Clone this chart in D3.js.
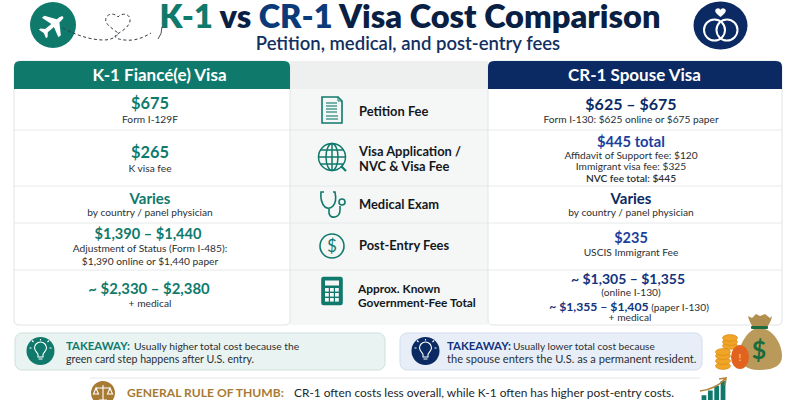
<!DOCTYPE html>
<html><head><meta charset="utf-8">
<script src="https://cdn.jsdelivr.net/npm/d3@7"></script>
<style>html,body{margin:0;padding:0;background:#fff}svg{display:block}text{font-family:Lato,sans-serif}</style>
</head><body><svg id="c" width="800" height="400"></svg>
<script>
const titleParts = ["K-1", " vs ", "CR-1", " Visa Cost Comparison"];
const subtitle = "Petition, medical, and post-entry fees";
const headers = ["K-1 Fiancé(e) Visa", "CR-1 Spouse Visa"];
const rowLabels = [["Petition Fee"], ["Visa Application /", "NVC & Visa Fee"], ["Medical Exam"], ["Post-Entry Fees"], ["Approx. Known", "Government-Fee Total"]];
const k1Values = ["$675", "$265", "Varies", "$1,390 – $1,440", "~ $2,330 – $2,380"];
const k1Notes = [["Form I-129F"], ["K visa fee"], ["by country / panel physician"], ["Adjustment of Status (Form I-485):", "$1,390 online or $1,440 paper"], ["+ medical"]];
const cr1Values = ["$625 – $675", "$445 total", "Varies", "$235", "~ $1,305 – $1,355"];
const cr1Notes = [["Form I-130: $625 online or $675 paper"], ["Affidavit of Support fee: $120", "Immigrant visa fee: $325", "NVC fee total: $445"], ["by country / panel physician"], ["USCIS Immigrant Fee"], ["(online I-130)"]];
const cr1Paper = ["~ $1,355 – $1,405", " (paper I-130)"];
const cr1Tail = "+ medical";
const takeawayHead = "TAKEAWAY:";
const takeawayK1 = ["Usually higher total cost because the", "green card step happens after U.S. entry."];
const takeawayCR1 = ["Usually lower total cost because", "the spouse enters the U.S. as a permanent resident."];
const ruleHead = "GENERAL RULE OF THUMB:";
const ruleBody = "CR-1 often costs less overall, while K-1 often has higher post-entry costs.";
const trendBars = [1, 2, 3, 4];

const TEAL="#0f7a6c", NAVY="#0b2a63", BLUE="#1a3f9e", INK="#2b2f33", GOLD="#a87b35";
const svg=d3.select("#c");
const X={t:14,a:290,b:488,r:782}, TOP=61, HEAD=89, BOT=325;
const rowEdges=[89,130,186,223,270,325];
const kx=150, cx=631, lx=359;
const kBase=[[109,123],[158,172],[204,216],[239,252,265],[294,307]];
const cBase=[[110,123],[147,159,170,182],[204,216],[243,256],[284,296]];
const lBase=[[116],[156,171],[209],[250],[293,307]];
const iconY=[110,157,205,246,291];
const cColor=[NAVY,BLUE,NAVY,BLUE,"#12337e"];
const kSize=[16.4,16.4,15,14.6,14.9], cSize=[16,14.7,15,14.5,14];
const kOff=[0,0,0,-2,-1], cOff=[0,0,0,0,-3];
const lSize=[12.9,12.9,12.9,12.9,11.9];

// title
const title=svg.append("text").attr("x",410).attr("y",28).attr("text-anchor","middle")
  .style("font-size","32.6px").style("font-weight",800);
title.selectAll("tspan").data(titleParts).join("tspan").text(d=>d)
  .style("white-space","pre")
  .attr("fill",(d,i)=>i==0?TEAL:i==2?"#0b3a78":"#0a1f44");
svg.append("text").attr("x",408).attr("y",50).attr("text-anchor","middle").attr("fill","#12305f")
  .style("font-size","18.5px").style("font-weight",600).text(subtitle);

// table frame
const rr=(x,y,w,h,tl,tr,br,bl)=>`M${x+tl},${y}H${x+w-tr}Q${x+w},${y} ${x+w},${y+tr}V${y+h-br}Q${x+w},${y+h} ${x+w-br},${y+h}H${x+bl}Q${x},${y+h} ${x},${y+h-bl}V${y+tl}Q${x},${y} ${x+tl},${y}Z`;
svg.append("path").attr("d",rr(X.a,TOP,X.b-X.a,BOT-TOP,0,0,0,0)).attr("fill","#f5f6f6");
svg.append("path").attr("d",rr(X.a,TOP,X.b-X.a,HEAD-TOP,0,0,0,0)).attr("fill","#eef0f0");
svg.append("path").attr("d",rr(X.t,TOP,X.a-X.t,BOT-TOP,6,6,5,5)).attr("fill","#fff").attr("stroke","#dfe3e5");
svg.append("path").attr("d",rr(X.b,TOP,X.r-X.b,BOT-TOP,6,6,5,5)).attr("fill","#fff").attr("stroke","#dfe3e5");
svg.append("path").attr("d",rr(X.t,TOP,X.a-X.t,HEAD-TOP,6,6,0,0)).attr("fill",TEAL);
svg.append("path").attr("d",rr(X.b,TOP,X.r-X.b,HEAD-TOP,6,6,0,0)).attr("fill",NAVY);
svg.selectAll("line.row").data(rowEdges.slice(1,5)).join("line").attr("class","row")
  .attr("x1",X.t).attr("x2",X.r).attr("y1",d=>d).attr("y2",d=>d).attr("stroke","#e6e9ea");
svg.selectAll("text.h").data(headers).join("text").attr("class","h")
  .attr("x",(d,i)=>i?634.5:159.5).attr("y",81).attr("text-anchor","middle").attr("fill","#fff")
  .style("font-size","17px").style("font-weight",700).text(d=>d);

// value lines
const big=(cls,x,arr,base,col,size,off)=>svg.selectAll("text."+cls).data(arr).join("text").attr("class",cls).attr("x",(d,i)=>x+off[i]).attr("y",(d,i)=>base[i][0])
  .attr("text-anchor","middle").attr("fill",col).style("font-size",(d,i)=>size[i]+"px").style("font-weight",700).text(d=>d);
big("kv",kx,k1Values,kBase,TEAL,kSize,kOff);
big("cv",cx,cr1Values,cBase,(d,i)=>cColor[i],cSize,cOff);
const notes=(arr,x,base,cls)=>{
  const rows=arr.flatMap((l,r)=>l.map((t,j)=>({t,y:base[r][j+1],strong:t.startsWith("NVC")})));
  svg.selectAll("text."+cls).data(rows).join("text").attr("class",cls).attr("x",x).attr("y",d=>d.y)
    .attr("text-anchor","middle").attr("fill",INK).style("font-size","10.2px")
    .style("font-weight",d=>d.strong?600:400).text(d=>d.t);
};
notes(k1Notes,kx,kBase,"kn"); notes(cr1Notes,cx,cBase,"cn");
const paper=svg.append("text").attr("x",629).attr("y",311).attr("text-anchor","middle");
paper.append("tspan").attr("fill","#12337e").style("font-size","12.2px").style("font-weight",700).text(cr1Paper[0]);
paper.append("tspan").attr("fill",INK).style("font-size","10.2px").style("white-space","pre").text(cr1Paper[1]);
svg.append("text").attr("x",630).attr("y",321).attr("text-anchor","middle").attr("fill",INK).style("font-size","10.2px").text(cr1Tail);

// middle labels
const labelRows=rowLabels.flatMap((l,r)=>l.map((t,j)=>({t,y:lBase[r][j],r})));
svg.selectAll("text.l").data(labelRows).join("text").attr("class","l").attr("x",d=>d.r==4?358:lx).attr("y",d=>d.y)
  .attr("fill","#14181c").style("font-size",d=>lSize[d.r]+"px").style("font-weight",700).text(d=>d.t);

// icons
const ic=svg.append("g").attr("fill","none").attr("stroke",TEAL).attr("stroke-width",1.6);
const doc=ic.append("g").attr("transform",`translate(332,${iconY[0]})`);
doc.append("path").attr("d","M-10,-13H6L10,-9V13H-10Z");
doc.append("path").attr("d","M6,-13V-9H10").attr("stroke-width",1);
doc.selectAll("line").data([-7,-4,-1,2,6,9]).join("line").attr("x1",-6).attr("x2",d=>d>4?6:5).attr("y1",d=>d).attr("y2",d=>d).attr("stroke-width",1.1);
const gl=ic.append("g").attr("transform",`translate(332,${iconY[1]})`).attr("stroke-width",1.5);
gl.append("circle").attr("r",13.5);
gl.append("ellipse").attr("rx",6).attr("ry",13.5);
gl.append("path").attr("d","M0,-13.5V13.5M-13.5,0H13.5M-11.5,-7H11.5M-11.5,7H11.5");
gl.append("path").attr("d","M9,9L14,14").attr("stroke-width",2.2);
const st=ic.append("g").attr("transform",`translate(332,${iconY[2]})`);
st.append("path").attr("d","M-8,-13H-11Q-12,-3 -7,2Q-3,5 1,1Q5,-3 3,-13H1M-3,4V8Q-2,13 3,12Q8,11 8,5V1");
st.append("circle").attr("cx",10).attr("cy",-3).attr("r",3);
const dl=ic.append("g").attr("transform",`translate(332,${iconY[3]})`);
dl.append("circle").attr("r",12);
dl.append("text").attr("y",6).attr("text-anchor","middle").attr("fill",TEAL).attr("stroke","none").style("font-size","17px").text("$");
const ca=ic.append("g").attr("transform",`translate(332,${iconY[4]})`);
ca.append("rect").attr("x",-10).attr("y",-13.5).attr("width",20).attr("height",27).attr("rx",1.5).attr("fill",TEAL);
ca.append("rect").attr("x",-7).attr("y",-10.5).attr("width",14).attr("height",5).attr("fill","#f5f6f6").attr("stroke","none");
ca.selectAll("rect.k").data(d3.cross([-7,-2,3],[-3,2,7])).join("rect").attr("class","k")
  .attr("x",d=>d[0]).attr("y",d=>d[1]).attr("width",3.8).attr("height",3.6).attr("fill","#f5f6f6").attr("stroke","none");

// header decoration: plane + route
svg.append("circle").attr("cx",53).attr("cy",25).attr("r",23).attr("fill",TEAL);
svg.append("path").attr("transform","translate(52,26) rotate(50) scale(.8)")
  .attr("fill","#fff").attr("d","M0,-18C2,-18 2.5,-15 2.5,-10L16,-1V3L2.5,-1V9L7,13V15.5L0,13.5L-7,15.5V13L-2.5,9V-1L-16,3V-1L-2.5,-10C-2.5,-15 -2,-18 0,-18Z");
svg.append("path").attr("fill","none").attr("stroke","#333b45").attr("stroke-width",1).attr("stroke-dasharray","3 2.5")
  .attr("d","M63,28C72,33 88,40 104,40C112,40 118,36 118,33C112,28 104,24 106,18C108,13 115,13 118,17C121,13 129,13 130,19C131,26 122,31 116,35C112,38 122,41 133,40C140,39 146,36 151,33");
svg.append("path").attr("fill","none").attr("stroke","#222").attr("stroke-width",.8).attr("d","M162,27Q162,34 158,39");

// rings badge
svg.append("ellipse").attr("cx",720.5).attr("cy",25.5).attr("rx",27).attr("ry",24).attr("fill",NAVY);
svg.selectAll("circle.ring").data([714.5,727]).join("circle").attr("class","ring").attr("cx",d=>d).attr("cy",30).attr("r",10.5)
  .attr("fill","none").attr("stroke","#fff").attr("stroke-width",2);
svg.append("path").attr("fill","#fff").attr("d","M720.5,17C716,13.5 714,11 716,9C718,7.5 720,8.5 720.5,10C721,8.5 723,7.5 725,9C727,11 725,13.5 720.5,17Z");

// takeaways
const tk=[{x:15,w:370,fill:"#e9f3f1",stroke:"#cfe0dd",col:TEAL,cx:40.5,lines:takeawayK1,tx:66,bodyX:134,ink:TEAL,fs:[10.3,10.6]},
          {x:400,w:302,fill:"#e8eef8",stroke:"#d3dcec",col:NAVY,cx:425.5,lines:takeawayCR1,tx:447,bodyX:513,ink:"#12337e",fs:[10.1,11.1]}];
tk.forEach(t=>{
  svg.append("rect").attr("x",t.x).attr("y",333).attr("width",t.w).attr("height",37).attr("rx",7).attr("fill",t.fill).attr("stroke",t.stroke);
  svg.append("circle").attr("cx",t.cx).attr("cy",351).attr("r",14).attr("fill",t.col);
  const b=svg.append("g").attr("transform",`translate(${t.cx},351)`).attr("fill","none").attr("stroke","#fff").attr("stroke-width",1.1);
  b.append("path").attr("d","M-2.5,6V3.5C-2.5,2 -6,0 -6,-3A6,6 0 0 1 6,-3C6,0 2.5,2 2.5,3.5V6ZM-2,8H2");
  b.append("path").attr("d","M-9,-3H-11M9,-3H11M0,-10.5V-12M-7,-9L-8.5,-10.5M7,-9L8.5,-10.5");
  svg.append("text").attr("x",t.tx).attr("y",350).attr("fill",t.ink).style("font-size","11.4px").style("font-weight",700).text(takeawayHead);
  svg.append("text").attr("x",t.bodyX).attr("y",350).attr("fill",INK).style("font-size",t.fs[0]+"px").text(t.lines[0]);
  svg.append("text").attr("x",t.tx).attr("y",363).attr("fill",INK).style("font-size",t.fs[1]+"px").text(t.lines[1]);
});

// money bag
const m=svg.append("g");
m.append("path").attr("fill","#b99a5a").attr("d","M741,345C746,334 752,328 760,328C772,328 782,343 782,356C782,367 772,370 758,370C745,370 737,362 741,345Z");
m.append("path").attr("fill","#b08f50").attr("d","M748,316L752,318L756,314L760,316L765,314L770,318L772,316C771,322 768,326 766,328L754,328C752,326 749,321 748,316Z");
m.append("rect").attr("x",751).attr("y",326).attr("width",17).attr("height",3).attr("rx",1).attr("fill","#1d6b3e");
m.append("text").attr("x",759).attr("y",359).attr("text-anchor","middle").attr("fill","#1c6b3c").style("font-size","25px").style("font-weight",700).text("$");
m.selectAll("ellipse.c").data([[730,346],[730,342],[730,338],[723,366],[723,361],[723,356],[723,352]]).join("ellipse").attr("class","c")
  .attr("cx",d=>d[0]).attr("cy",d=>d[1]).attr("rx",7.5).attr("ry",3.4).attr("fill","#f0a526").attr("stroke","#d4871a").attr("stroke-width",.6);
m.append("ellipse").attr("cx",740).attr("cy",357).attr("rx",9).attr("ry",12).attr("fill","#e2621f");
m.append("text").attr("x",740).attr("y",361).attr("text-anchor","middle").attr("fill","#f3c37a").style("font-size","10px").style("font-weight",700).text("!");

// rule of thumb
svg.append("line").attr("x1",90).attr("x2",700).attr("y1",378).attr("y2",378).attr("stroke","#e3e6e8");
svg.append("circle").attr("cx",103).attr("cy",393).attr("r",12).attr("fill",GOLD);
const sc=svg.append("g").attr("transform","translate(103,393)").attr("fill","none").attr("stroke","#fff").attr("stroke-width",1.1);
sc.append("path").attr("d","M0,-8V7M-4,7H4M-7,-5H7M-7,-5L-9.5,1H-4.5ZM7,-5L4.5,1H9.5Z");
svg.append("text").attr("x",127).attr("y",397).attr("fill",GOLD).style("font-size","12.1px").style("font-weight",700).text(ruleHead);
svg.append("text").attr("x",294).attr("y",397).attr("fill","#22272b").style("font-size","11.9px").text(ruleBody);
const tb=d3.scaleBand().domain(trendBars).range([700,727]).padding(.25);
const th=d3.scaleLinear().domain([0,4]).range([0,19]);
svg.selectAll("rect.t").data(trendBars).join("rect").attr("class","t").attr("x",d=>tb(d)).attr("width",tb.bandwidth())
  .attr("y",d=>400-th(d)).attr("height",d=>th(d)).attr("fill",TEAL);
svg.append("path").attr("fill","none").attr("stroke","#b5863a").attr("stroke-width",1.6).attr("d","M700,391Q716,389 725,379M719,379L726,378L725,385");
</script></body></html>
